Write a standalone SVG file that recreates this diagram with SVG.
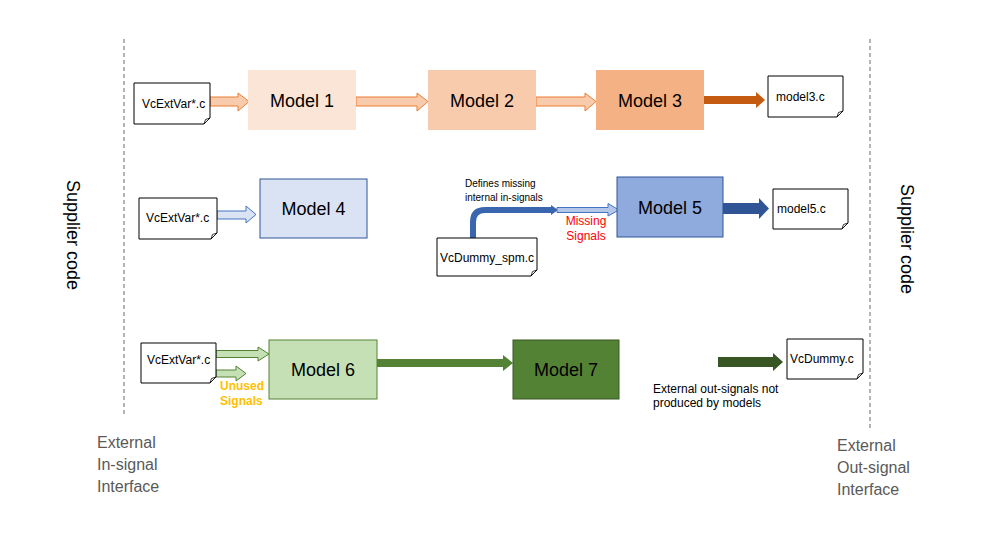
<svg xmlns="http://www.w3.org/2000/svg" width="992" height="534" viewBox="0 0 992 534">
<style>
text{font-family:"Liberation Sans",Arial,sans-serif;}
.doc{fill:#fff;stroke:#000;stroke-width:1}
.fold{fill:#fff;stroke:#000;stroke-width:0.8}
.dtxt{font-size:12px;fill:#000}
.mtxt{font-size:18px;fill:#000;text-anchor:middle}
.dash{stroke:#8c8c8c;stroke-width:1.3;stroke-dasharray:4 3;fill:none}
.side{font-size:18px;fill:#000}
.iface{font-size:16px;fill:#595959}
</style>
<rect width="992" height="534" fill="#fff"/>
<g id="boundaries">
<line class="dash" x1="124" y1="39" x2="124" y2="415"/>
<line class="dash" x1="870" y1="39" x2="870" y2="428"/>
</g>
<g id="labels">
<text class="side" transform="translate(67,180) rotate(90)">Supplier code</text>
<text class="side" transform="translate(901,184) rotate(90)">Supplier code</text>
<text class="iface" x="97" y="448">External</text>
<text class="iface" x="97" y="470">In-signal</text>
<text class="iface" x="97" y="492">Interface</text>
<text class="iface" x="837" y="451">External</text>
<text class="iface" x="837" y="473">Out-signal</text>
<text class="iface" x="837" y="495">Interface</text>
</g>
<g id="connectors">
<path d="M210,97 H238 V93 L249,101.5 L238,111 V106 H210 Z" fill="#F8CBAD" stroke="#ED7D31" stroke-width="1"/>
<path d="M356,97 H417 V93 L428,101.5 L417,111 V106 H356 Z" fill="#F8CBAD" stroke="#ED7D31" stroke-width="1"/>
<path d="M536,97 H585 V93 L596,101.5 L585,111 V106 H536 Z" fill="#F8CBAD" stroke="#ED7D31" stroke-width="1"/>
<path d="M704,96 H756 V92 L765,100 L756,108 V104 H704 Z" fill="#C55A11"/>
<path d="M217,211 H246 V206 L256,214.5 L246,223 V219 H217 Z" fill="#DAE3F3" stroke="#4472C4" stroke-width="1"/>
<path d="M473,238 V222 Q473,210 485,210 H552" fill="none" stroke="#3A66B0" stroke-width="6"/>
<path d="M551,205 L558,210 L551,215 Z" fill="#3A66B0"/>
<path d="M557,207.5 H608 V203.5 L619,210 L608,216 V212.5 H557 Z" fill="#B4C7E7" stroke="#4472C4" stroke-width="1"/>
<path d="M723,203 H759 V198 L769,208.5 L759,219 V214 H723 Z" fill="#2F5597"/>
<path d="M216,350.5 H258 V347 L269,354 L258,361 V357.5 H216 Z" fill="#C5E0B4" stroke="#548235" stroke-width="1"/>
<path d="M216,370 H236 V366 L246,373.5 L236,381 V377 H216 Z" fill="#C5E0B4" stroke="#548235" stroke-width="1"/>
<path d="M377,359 H503 V355 L513,363 L503,371 V367 H377 Z" fill="#548235"/>
<path d="M718,357 H773 V353 L783,362 L773,371 V367 H718 Z" fill="#375623"/>
</g>
<g id="doc1">
<path class="doc" d="M134,83 H210 V118 L204,124 H134 Z"/>
<path class="fold" d="M204,124 L205.5,119.5 L210,118 Z"/>
<text class="dtxt" x="142" y="108">VcExtVar*.c</text>
</g>
<g id="model1">
<rect x="248" y="70" width="108" height="60" fill="#FBE5D6"/>
<text class="mtxt" x="302" y="107">Model 1</text>
</g>
<g id="model2">
<rect x="428" y="70" width="108" height="60" fill="#F8CBAD"/>
<text class="mtxt" x="482" y="107">Model 2</text>
</g>
<g id="model3">
<rect x="596" y="70" width="108" height="60" fill="#F4B183"/>
<text class="mtxt" x="650" y="107">Model 3</text>
</g>
<g id="model3c">
<path class="doc" d="M768,76 H843 V111 L837,117 H768 Z"/>
<path class="fold" d="M837,117 L838.5,112.5 L843,111 Z"/>
<text class="dtxt" x="776" y="101">model3.c</text>
</g>
<g id="doc4">
<path class="doc" d="M139,198 H217 V233 L211,239 H139 Z"/>
<path class="fold" d="M211,239 L212.5,234.5 L217,233 Z"/>
<text class="dtxt" x="146" y="222">VcExtVar*.c</text>
</g>
<g id="model4">
<rect x="260" y="179" width="107" height="59" fill="#DAE3F3" stroke="#2F5597" stroke-width="1"/>
<text class="mtxt" x="313.5" y="215">Model 4</text>
</g>
<g id="dummyspm">
<path class="doc" d="M437,238 H537 V270 L531,276 H437 Z"/>
<path class="fold" d="M531,276 L532.5,271.5 L537,270 Z"/>
<text class="dtxt" x="440" y="262">VcDummy_spm.c</text>
<text x="465" y="187" font-size="10" fill="#000">Defines missing</text>
<text x="465" y="201" font-size="10" fill="#000">internal in-signals</text>
<text x="586" y="225" font-size="12" fill="#FF0000" text-anchor="middle">Missing</text>
<text x="586" y="240" font-size="12" fill="#FF0000" text-anchor="middle">Signals</text>
</g>
<g id="model5">
<rect x="617" y="177" width="106" height="60" fill="#8FAADC" stroke="#2F5597" stroke-width="1"/>
<text class="mtxt" x="670" y="214">Model 5</text>
</g>
<g id="model5c">
<path class="doc" d="M773,189 H848 V223 L842,229 H773 Z"/>
<path class="fold" d="M842,229 L843.5,224.5 L848,223 Z"/>
<text class="dtxt" x="777" y="213">model5.c</text>
</g>
<g id="doc6">
<path class="doc" d="M141,343 H216 V377 L210,383 H141 Z"/>
<path class="fold" d="M210,383 L211.5,378.5 L216,377 Z"/>
<text class="dtxt" x="147" y="364">VcExtVar*.c</text>
<text x="220" y="390" font-size="12" font-weight="bold" fill="#FFC000">Unused</text>
<text x="220" y="405" font-size="12" font-weight="bold" fill="#FFC000">Signals</text>
</g>
<g id="model6">
<rect x="269" y="340" width="108" height="59" fill="#C5E0B4" stroke="#548235" stroke-width="1"/>
<text class="mtxt" x="323" y="376">Model 6</text>
</g>
<g id="model7">
<rect x="513" y="340" width="106" height="59" fill="#548235" stroke="#385723" stroke-width="1"/>
<text class="mtxt" x="566" y="376">Model 7</text>
</g>
<g id="vcdummy">
<path class="doc" d="M787,339 H863 V373 L857,379 H787 Z"/>
<path class="fold" d="M857,379 L858.5,374.5 L863,373 Z"/>
<text class="dtxt" x="790" y="363">VcDummy.c</text>
<text x="653" y="393" font-size="12" fill="#000">External out-signals not</text>
<text x="653" y="407" font-size="12" fill="#000">produced by models</text>
</g>
</svg>
